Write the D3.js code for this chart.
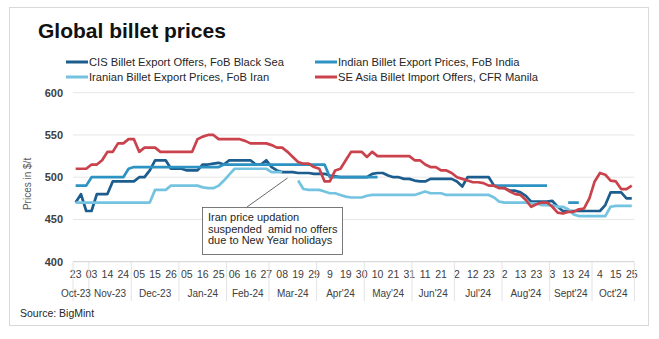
<!DOCTYPE html>
<html>
  <head>
    <script src="https://d3js.org/d3.v7.min.js"></script>
    <style>
      body {
        margin: 0;
        background: #ffffff;
      }
      svg {
        font-family: "Liberation Sans", Arial, sans-serif;
      }
    </style>
  </head>
  <body>
    <svg id="chart" width="659" height="339"></svg>
    <script>
      const dayLabels = ["23","03","14","24","05","15","26","05","16","25","06","16","27","08","19","29",
        "9","19","30","10","21","31","11","21","2","12","23","2","13","23","3","13","24","4","15","25"];
      const monthLabels = ["Oct-23","Nov-23","Dec-23","Jan-24","Feb-24","Mar-24","Apr'24","May'24",
        "Jun'24","Jul'24","Aug'24","Sept'24","Oct'24"];
      // first category of each month group
      const monthStarts = [0,3,11,20,29,37,46,55,64,72,81,90,98];
      const yTicks = [400,450,500,550,600];

      const cisPrices = [
        470,480,460,460,480,480,480,495,495,495,
        495,495,500,500,508,520,520,520,510,510,
        510,508,508,508,515,515,516,517,515,520,
        520,520,520,520,515,515,520,512,508,506,
        506,506,505,505,505,504,504,504,502,501,
        500,500,500,500,500,500,504,505,505,502,
        500,500,498,498,496,495,495,498,498,498,
        498,498,495,489,500,500,500,500,500,490,
        488,487,484,484,482,478,471,471,471,471,
        472,465,460,460,460,460,460,460,460,460,
        467,482,482,482,475,475];
      const indianPrices = [
        490,490,490,500,500,500,500,500,500,500,
        510,512,512,512,512,512,512,512,512,512,
        512,512,512,512,512,512,512,512,515,515,
        515,515,515,515,515,515,515,515,515,515,
        515,515,515,515,515,515,515,515,500,500,
        500,500,500,500,500,500,500,500,null,null,
        null,null,null,null,null,null,null,null,null,null,
        null,null,null,null,null,null,null,null,null,490,
        490,490,490,490,490,490,490,490,490,490,
        null,null,null,470,470,470,null,null,null,null,
        null,null,null,null,null,null];
      const iranPrices = [
        470,470,470,470,470,470,470,470,470,470,
        470,470,470,470,470,485,485,485,490,490,
        490,490,490,490,488,487,487,490,496,503,
        510,510,510,510,510,510,510,506,506,506,
        null,null,496,486,485,485,485,483,481,481,
        479,477,476,476,476,478,479,479,479,479,
        479,479,479,479,479,481,483,481,481,481,
        479,479,479,479,479,479,479,479,479,476,
        471,470,470,470,470,470,469,469,467,467,
        467,465,465,462,456,454,454,454,454,454,
        454,465,466,466,466,466];
      const seAsiaPrices = [
        510,510,510,515,515,520,530,530,540,540,
        545,545,530,535,535,535,530,530,530,530,
        530,530,530,545,548,550,550,545,545,545,
        545,545,543,540,540,540,540,538,535,535,
        530,524,518,516,516,512,510,495,495,508,
        510,520,530,530,530,524,530,525,525,525,
        525,525,525,525,520,520,515,512,512,508,
        508,505,500,498,496,494,494,493,490,490,
        487,487,483,480,479,473,465,468,470,470,
        465,458,457,459,459,462,463,475,495,505,
        503,496,495,486,486,490];

      const series = [
        {name: "CIS Billet Export Offers, FoB Black Sea", values: cisPrices, color: "#1c5d8e"},
        {name: "Indian Billet Export Prices, FoB India", values: indianPrices, color: "#2d93c2"},
        {name: "Iranian Billet Export Prices, FoB Iran", values: iranPrices, color: "#74c3e0"},
        {name: "SE Asia Billet Import Offers, CFR Manila", values: seAsiaPrices, color: "#c9424c"}
      ];

      let svg = d3.select("#chart");
      let nCat = cisPrices.length;

      let xScale = d3.scaleLinear().domain([-0.5, nCat - 0.5]).range([73, 634.4]);
      let yScale = d3.scaleLinear().domain([400, 600]).range([261.7, 92.7]);

      // outer frame
      svg.append("rect")
        .attr("x", 9.5).attr("y", 7.5)
        .attr("width", 639).attr("height", 318)
        .attr("fill", "#ffffff")
        .attr("stroke", "#d9d9d9");

      svg.append("text")
        .attr("x", 38).attr("y", 38)
        .text("Global billet prices")
        .style("font-size", "21px")
        .style("font-weight", "bold")
        .style("fill", "#111111");

      // legend, two columns
      let legend = svg.append("g").attr("id", "legend");
      series.forEach((s, i) => {
        let lx = i % 2 == 0 ? 66 : 315;
        let ly = i < 2 ? 62 : 77;
        legend.append("line")
          .attr("x1", lx).attr("x2", lx + 22)
          .attr("y1", ly).attr("y2", ly)
          .attr("stroke", s.color)
          .attr("stroke-width", 3);
        legend.append("text")
          .attr("x", lx + 23).attr("y", ly + 4)
          .text(s.name)
          .style("font-size", "11.2px")
          .style("fill", "#262626");
      });

      // grid + y labels
      let grid = svg.append("g").attr("id", "grid");
      grid.selectAll("line").data(yTicks).join("line")
        .attr("x1", xScale.range()[0]).attr("x2", xScale.range()[1])
        .attr("y1", d => yScale(d)).attr("y2", d => yScale(d))
        .attr("stroke", d => d == 400 ? "#d0d0d0" : "#e6e6e6")
        .attr("stroke-width", 1);
      grid.selectAll("text").data(yTicks).join("text")
        .attr("x", 63).attr("y", d => yScale(d) + 4)
        .attr("text-anchor", "end")
        .text(d => d)
        .style("font-size", "11px")
        .style("font-weight", "bold")
        .style("fill", "#404040");

      svg.append("text")
        .attr("transform", "translate(31," + yScale(492) + ") rotate(-90)")
        .attr("text-anchor", "middle")
        .text("Prices in $/t")
        .style("font-size", "10px")
        .style("fill", "#595959");

      // category axis: day labels every 3rd point, month groups below
      let axis = svg.append("g").attr("id", "xaxis");
      axis.selectAll("text.day").data(dayLabels).join("text")
        .attr("class", "day")
        .attr("x", (d, i) => xScale(i * 3))
        .attr("y", 278)
        .attr("text-anchor", "middle")
        .text(d => d)
        .style("font-size", "10.5px")
        .style("fill", "#404040");

      let bounds = monthStarts.map(d => d - 0.5).concat([nCat - 0.5]);
      axis.selectAll("line.sep").data(bounds).join("line")
        .attr("class", "sep")
        .attr("x1", d => xScale(d)).attr("x2", d => xScale(d))
        .attr("y1", 262).attr("y2", 301)
        .attr("stroke", "#e3e3e3");
      axis.selectAll("text.month").data(monthLabels).join("text")
        .attr("class", "month")
        .attr("x", (d, i) => {
          let end = i < monthStarts.length - 1 ? monthStarts[i + 1] - 1 : nCat - 1;
          let cx = xScale((monthStarts[i] + end) / 2);
          // first group is narrow, its label gets pushed left a bit
          return i == 0 ? cx - 5 : cx;
        })
        .attr("y", 297)
        .attr("text-anchor", "middle")
        .text(d => d)
        .style("font-size", "10px")
        .style("fill", "#404040");

      // lines
      let line = d3.line()
        .defined(d => d != null)
        .x((d, i) => xScale(i))
        .y(d => yScale(d));
      svg.append("g").attr("id", "lines")
        .selectAll("path").data(series).join("path")
        .attr("d", d => line(d.values))
        .attr("fill", "none")
        .attr("stroke", d => d.color)
        .attr("stroke-width", 2.7)
        .attr("stroke-linejoin", "round");

      // annotation for the Iranian gap
      let note = svg.append("g").attr("id", "note");
      note.append("line")
        .attr("x1", 247).attr("y1", 207)
        .attr("x2", xScale(40)).attr("y2", 178)
        .attr("stroke", "#404040")
        .attr("stroke-width", 0.8);
      note.append("rect")
        .attr("x", 202.5).attr("y", 207.5)
        .attr("width", 140).attr("height", 47)
        .attr("fill", "#ffffff")
        .attr("stroke", "#595959")
        .attr("stroke-width", 0.8);
      ["Iran price updation", "suspended  amid no offers", "due to New Year holidays"].forEach((t, i) => {
        note.append("text")
          .attr("x", 208).attr("y", 221 + i * 11.5)
          .text(t)
          .style("font-size", "11px")
          .style("white-space", "pre")
          .style("fill", "#262626");
      });

      svg.append("text")
        .attr("x", 20).attr("y", 317)
        .text("Source: BigMint")
        .style("font-size", "10.5px")
        .style("fill", "#262626");
    </script>
  </body>
</html>
